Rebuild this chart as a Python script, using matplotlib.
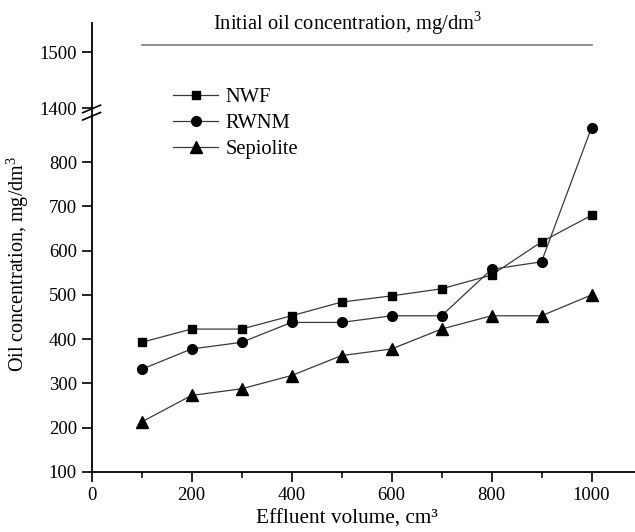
import matplotlib
matplotlib.use("Agg")
import matplotlib.pyplot as plt
from matplotlib.lines import Line2D

plt.rcParams['font.family'] = ['Liberation Serif', 'DejaVu Serif']
plt.rcParams['mathtext.fontset'] = 'custom'
plt.rcParams['mathtext.rm'] = 'Liberation Serif'

# effluent volume, cm3
volume = [100, 200, 300, 400, 500, 600, 700, 800, 900, 1000]
# oil concentration in the effluent, mg/dm3
nwf = [393, 423, 423, 453, 484, 498, 514, 545, 620, 680]
rwnm = [332, 378, 393, 438, 438, 453, 453, 558, 575, 878]
sepiolite = [213, 273, 288, 318, 363, 378, 423, 453, 453, 500]
initial_conc = 1512
initial_span = [100, 1000]

W, H = 635, 532
fig = plt.figure(figsize=(W / 100, H / 100), dpi=100)

left = 91.5 / W
width = 1 - left
ax = fig.add_axes([left, 1 - 472 / H, width, (472 - 114) / H])
ax_top = fig.add_axes([left, 1 - 112 / H, width, (112 - 23) / H])

line_kw = dict(color='#3a3a3a', lw=0.9, mfc='black', mec='black')
ax.plot(volume, nwf, marker='s', ms=6, label='NWF', **line_kw)
ax.plot(volume, rwnm, marker='o', ms=7, label='RWNM', **line_kw)
ax.plot(volume, sepiolite, marker='^', ms=8, label='Sepiolite', **line_kw)

ax.set_xlim(0, 1087)
ax.set_ylim(100, 909)
ax.set_xticks([0, 200, 400, 600, 800, 1000])
ax.set_xticks([100, 300, 500, 700, 900], minor=True)
ax.set_yticks([100, 200, 300, 400, 500, 600, 700, 800])
for s in ['top', 'right']:
    ax.spines[s].set_visible(False)
ax.spines['left'].set_linewidth(1.3)
ax.spines['bottom'].set_linewidth(1.3)
ax.tick_params(which='major', direction='out', length=7.5, width=1.2,
               labelsize=13.5, pad=3)
ax.tick_params(which='minor', direction='out', length=4.5, width=1.1)

ax.set_xlabel('Effluent volume, cm³', fontsize=15.3)
ax.xaxis.set_label_coords((347 - 91.5) / (W - 91.5), -0.104)
ax.set_ylabel('Oil concentration, mg/dm$^3$', fontsize=14.5)
ax.yaxis.set_label_coords(-0.111, 0.58)

# upper part of the broken y axis
ax_top.plot(initial_span, [initial_conc, initial_conc], color='#7a7a7a', lw=1.2)
ax_top.set_xlim(ax.get_xlim())
ax_top.set_ylim(1393, 1552)
ax_top.set_yticks([1400, 1500])
ax_top.set_xticks([])
for s in ['top', 'right', 'bottom']:
    ax_top.spines[s].set_visible(False)
ax_top.spines['left'].set_linewidth(1.3)
ax_top.tick_params(which='major', direction='out', length=7.5, width=1.2,
                   labelsize=13.5, pad=3)
ax_top.patch.set_alpha(0)
ax_top.text(513, 1540, 'Initial oil concentration, mg/dm$^3$', fontsize=14.8,
            ha='center', va='baseline', clip_on=False)

# break marks on the y axis
for y0 in (112.7, 120):
    fig.add_artist(Line2D([82.7 / W, 100.5 / W], [1 - y0 / H, 1 - (y0 - 7.5) / H],
                          color='black', lw=1.2, transform=fig.transFigure))

fig.legend(loc='upper left', bbox_to_anchor=(173 / W, 1 - 88 / H),
           frameon=False, fontsize=14.8, handlelength=2.2, handletextpad=0.35,
           labelspacing=0.32, borderpad=0, borderaxespad=0)

fig.savefig('out.png', dpi=100)
